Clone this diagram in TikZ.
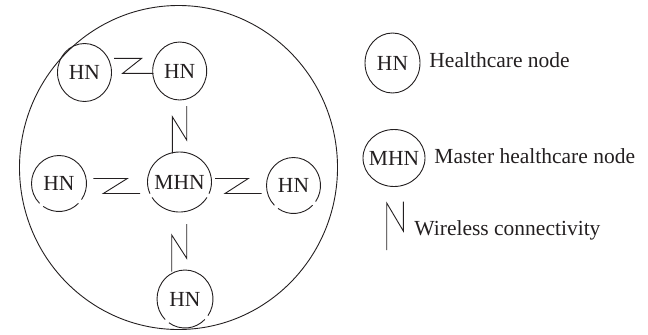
\documentclass[tikz,border=0pt]{standalone}
\usepackage{fontspec}
\setmainfont{Liberation Serif}
\usetikzlibrary{calc}
\definecolor{ink}{HTML}{231F20}
% closed outline round a node
\newcommand\ring[3]{\draw (#1.center) ellipse [x radius=#2, y radius=#3];}
% outline of a node drawn as two arcs, leaving two small breaks low on the ring
% #1 node, #2 x radius, #3 y radius, #4 right break angle, #5 left break angle, #6 half break width
\newcommand\brokenring[6]{%
  \draw ($(#1.center)+({#4+#6}:#2 and #3)$) arc[start angle={#4+#6}, end angle={#5-#6}, x radius=#2, y radius=#3];
  \draw ($(#1.center)+({#5+#6}:#2 and #3)$) arc[start angle={#5+#6}, end angle={#4+360-#6}, x radius=#2, y radius=#3];}
\begin{document}
\begin{tikzpicture}[x=1bp,y=-1bp,line width=0.9bp,draw=ink,text=ink,
  every node/.style={font=\fontsize{21.5bp}{25bp}\selectfont},
  nd/.style={inner sep=0pt},
  label/.style={anchor=base west,inner sep=0pt}]
\useasboundingbox (0,0) rectangle (648,334);

% the network boundary
\coordinate (net) at (178.5,167.5);
\draw (net) ellipse [x radius=159, y radius=162];

% healthcare nodes
\node[nd] (tl) at (84.5,72.5) {HN};
\node[nd] (tr) at (179.7,71) {HN};
\node[nd] (m) at (179.5,182) {MHN};
\node[nd] (l) at (59,183.5) {HN};
\node[nd] (r) at (293.5,185.5) {HN};
\node[nd] (b) at (185,299) {HN};
\ring{tl}{27}{29}
\ring{tr}{27}{29}
\brokenring{m}{32}{30}{27}{153}{4}
\brokenring{l}{27.5}{28}{40}{130}{5}
\brokenring{r}{27}{28}{40}{130}{5}
\brokenring{b}{28}{29}{40}{130}{5}

% wireless links
\coordinate (k1) at (114,58.3);
\draw (k1) -- ++(27.7,0) -- (122.7,73.3) -- (153.3,73.3);
\coordinate (k2) at (186.7,106);
\draw (k2) -- ++(0,34) -- (172.3,116.7) -- (172.3,153.3);
\coordinate (k3) at (93.3,178.5);
\draw (k3) -- ++(34,0) -- (103.3,193.5) -- (140,193.5);
\coordinate (k4) at (215,178.5);
\draw (k4) -- ++(33.3,0) -- (225,193.5) -- (261.7,193.5);
\coordinate (k5) at (186.7,224);
\draw (k5) -- ++(0,34.3) -- (171.7,235) -- (171.7,271.7);

% legend
\node[nd] (lg1) at (392.5,63) {HN};
\ring{lg1}{27.5}{30}
\node[label] (t1) at (429,67) {Healthcare node};
\node[nd] (lg2) at (394,158) {MHN};
\ring{lg2}{31}{28.5}
\node[label] (t2) at (434,163) {Master healthcare node};
\coordinate (k6) at (386.7,250);
\draw (k6) -- ++(0,-47) -- (403.3,231) -- (403.3,201.7);
\node[label] (t3) at (414,235) {Wireless connectivity};
\end{tikzpicture}
\end{document}
